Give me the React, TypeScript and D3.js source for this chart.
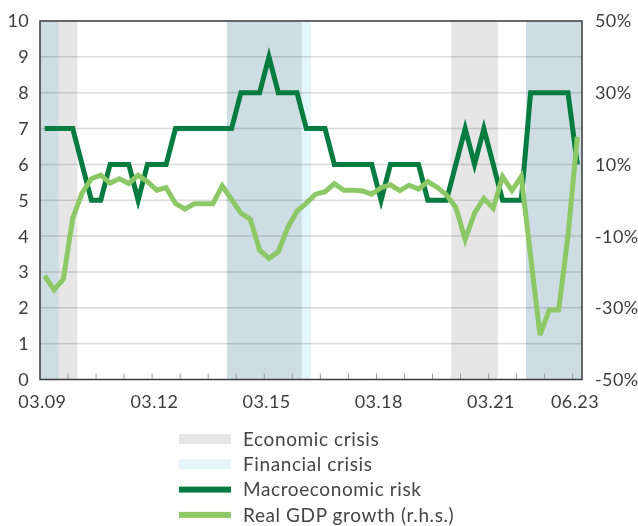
import React, { useEffect, useRef } from "react";
import * as d3 from "d3";

// quarterly categories 03.09 .. 06.23
const quarters: string[] = [];
for (let yr = 9; yr <= 23; yr++) {
  for (const m of ["03", "06", "09", "12"]) {
    if (yr === 23 && m > "06") break;
    quarters.push(`${m}.${String(yr).padStart(2, "0")}`);
  }
}

const macroRisk = [
  7, 7, 7, 7, 6, 5, 5, 6, 6, 6, 5, 6, 6, 6, 7, 7, 7, 7, 7, 7, 7, 8, 8, 8, 9, 8, 8, 8, 7,
  7, 7, 6, 6, 6, 6, 6, 5, 6, 6, 6, 6, 5, 5, 5, 6, 7, 6, 7, 6, 5, 5, 5, 8, 8, 8, 8, 8, 6,
];

const gdpGrowth = [
  -21, -25, -22, -5, 2, 6, 7, 4.8, 6, 4.7, 7, 5.2, 2.8, 3.5, -0.9, -2.5, -1, -1, -1, 4,
  0.2, -3.6, -5.3, -13.9, -16.2, -14.4, -7.7, -3, -0.8, 1.7, 2.4, 4.6, 2.8, 2.8, 2.6,
  1.7, 3.5, 4.3, 2.7, 4.2, 3.1, 5.2, 3.6, 1.5, -2, -11, -3.6, 0.5, -2.2, 6.6, 2.7, 6.6,
  -15.5, -37.6, -30.6, -30.6, -10, 17.7,
];

const xTickLabels = ["03.09", "03.12", "03.15", "03.18", "03.21", "06.23"];
const leftTicks = [0, 1, 2, 3, 4, 5, 6, 7, 8, 9, 10];
const rightTicks = [50, 30, 10, -10, -30, -50];

// crisis periods, in quarter-index units
const economicCrises = [
  [-0.5, 3.5],
  [19.5, 27.5],
  [43.5, 48.5],
  [51.5, 57.5],
];
const financialCrises = [
  [-0.5, 1.5],
  [19.5, 28.5],
  [51.5, 57.5],
];

const legendItems = [
  { label: "Economic crisis", color: "#e6e6e6", h: 10 },
  { label: "Financial crisis", color: "#e4f5fc", h: 10 },
  { label: "Macroeconomic risk", color: "#047c40", h: 6 },
  { label: "Real GDP growth (r.h.s.)", color: "#8cc865", h: 6 },
];

const FONT = "Lato, 'Open Sans', sans-serif";
const TEXT = "#3d3d3d";

export default function App() {
  const svgRef = useRef<SVGSVGElement>(null);

  useEffect(() => {
    document.body.style.margin = "0";
    const svg = d3.select(svgRef.current);
    svg.selectAll("*").remove();

    const left = 40, right = 582, top = 21, bottom = 379.5;

    const x = d3.scaleLinear().domain([-0.5, quarters.length - 0.5]).range([left, right]);
    const yL = d3.scaleLinear().domain([0, 10]).range([bottom, top]);
    const yR = d3.scaleLinear().domain([-50, 50]).range([bottom, top]);

    // crisis shading
    svg
      .append("g")
      .selectAll("rect")
      .data(economicCrises)
      .join("rect")
      .attr("x", (d) => x(d[0]))
      .attr("width", (d) => x(d[1]) - x(d[0]))
      .attr("y", top)
      .attr("height", bottom - top)
      .attr("fill", "#e6e6e6");
    svg
      .append("g")
      .selectAll("rect")
      .data(financialCrises)
      .join("rect")
      .attr("x", (d) => x(d[0]))
      .attr("width", (d) => x(d[1]) - x(d[0]))
      .attr("y", top)
      .attr("height", bottom - top)
      .attr("fill", "#e4f5fc")
      .style("mix-blend-mode", "multiply");

    // gridlines
    svg
      .append("g")
      .selectAll("line")
      .data(leftTicks.filter((t) => t > 0 && t < 10))
      .join("line")
      .attr("x1", left)
      .attr("x2", right)
      .attr("y1", (d) => yL(d))
      .attr("y2", (d) => yL(d))
      .attr("stroke", "rgba(0,0,0,0.14)")
      .attr("stroke-width", 1.5);

    // small x ticks
    svg
      .append("g")
      .selectAll("line")
      .data(d3.range(2.5, quarters.length - 0.5, 3))
      .join("line")
      .attr("x1", (d) => x(d))
      .attr("x2", (d) => x(d))
      .attr("y1", bottom)
      .attr("y2", bottom - 6)
      .attr("stroke", "#9a9a9a")
      .attr("stroke-width", 1);

    // lines
    const lineL = d3
      .line<number>()
      .x((d, i) => x(i))
      .y((d) => yL(d));
    const lineR = d3
      .line<number>()
      .x((d, i) => x(i))
      .y((d) => yR(d));

    svg
      .append("path")
      .datum(macroRisk)
      .attr("d", lineL)
      .attr("fill", "none")
      .attr("stroke", "#047c40")
      .attr("stroke-width", 5);
    svg
      .append("path")
      .datum(gdpGrowth)
      .attr("d", lineR)
      .attr("fill", "none")
      .attr("stroke", "#8cc865")
      .attr("stroke-width", 5);

    // frame
    svg
      .append("rect")
      .attr("x", left)
      .attr("y", top)
      .attr("width", right - left)
      .attr("height", bottom - top)
      .attr("fill", "none")
      .attr("stroke", "#3a3a3a")
      .attr("stroke-width", 1.5);

    // axis labels
    svg
      .append("g")
      .selectAll("text")
      .data(leftTicks)
      .join("text")
      .attr("x", 29)
      .attr("y", (d) => yL(d))
      .attr("dy", "0.36em")
      .attr("text-anchor", "end")
      .attr("font-size", 18)
      .attr("letter-spacing", 0.3)
      .attr("font-family", FONT)
      .attr("fill", TEXT)
      .text((d) => d);

    svg
      .append("g")
      .selectAll("text")
      .data(rightTicks)
      .join("text")
      .attr("x", 595)
      .attr("y", (d) => yR(d))
      .attr("dy", "0.36em")
      .attr("font-size", 18)
      .attr("letter-spacing", 0.4)
      .attr("font-family", FONT)
      .attr("fill", TEXT)
      .text((d) => `${d}%`);

    svg
      .append("g")
      .selectAll("text")
      .data(xTickLabels)
      .join("text")
      .attr("x", (d) => x(quarters.indexOf(d) - 0.25))
      .attr("y", 408)
      .attr("text-anchor", "middle")
      .attr("font-size", 18)
      .attr("letter-spacing", 0.4)
      .attr("font-family", FONT)
      .attr("fill", TEXT)
      .text((d) => d);

    // legend
    const lg = svg
      .append("g")
      .selectAll("g")
      .data(legendItems)
      .join("g")
      .attr("transform", (d, i) => `translate(179,${439 + i * 25.3})`);
    lg.append("rect")
      .attr("x", 0)
      .attr("y", (d) => -d.h / 2)
      .attr("width", 52)
      .attr("height", (d) => d.h)
      .attr("fill", (d) => d.color);
    lg.append("text")
      .attr("x", 64)
      .attr("y", 0)
      .attr("dy", "0.36em")
      .attr("font-size", 19)
      .attr("letter-spacing", 0.6)
      .attr("font-family", FONT)
      .attr("fill", "#454545")
      .text((d) => d.label);
  }, []);

  return (
    <svg
      ref={svgRef}
      width={638}
      height={526}
      style={{ position: "absolute", left: 0, top: 0, background: "#fff" }}
    />
  );
}
